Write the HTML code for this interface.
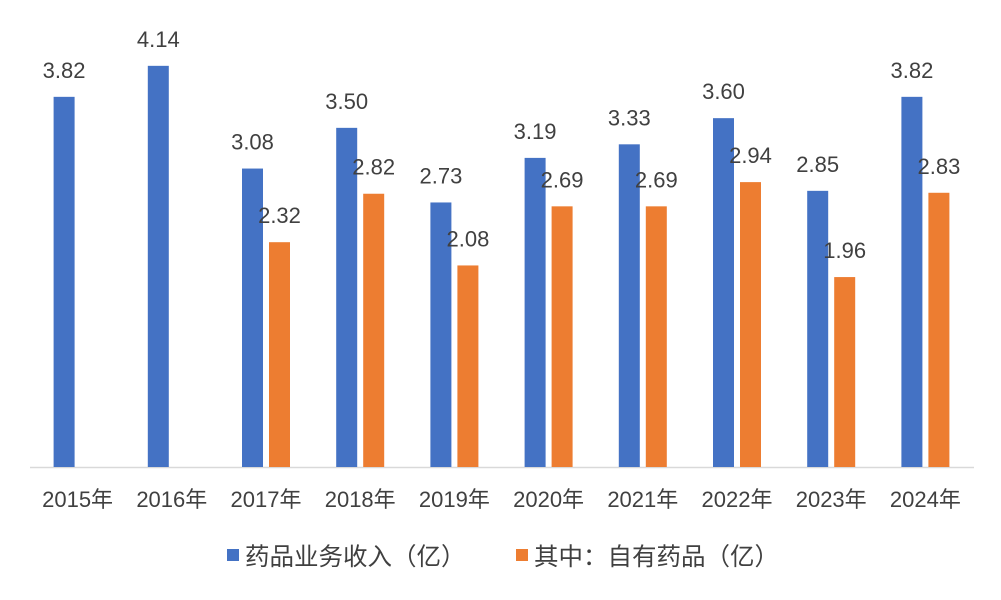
<!DOCTYPE html>
<html><head><meta charset="utf-8"><style>
html,body{margin:0;padding:0;background:#fff;}
svg{display:block;font-family:"Liberation Sans","Noto Sans CJK SC",sans-serif;}
</style></head><body>
<svg id="chart" width="1001" height="600">
<line x1="30" y1="467.5" x2="974" y2="467.5" stroke="#d9d9d9" stroke-width="1.5"/>
<g id="bars"></g>
<g id="labels"></g>
<g>
<g>
<rect x="227" y="549" width="12" height="12" fill="#4472c4"/>
<text x="245" y="565" font-size="24.5" fill="#404040">药品业务收入（亿）</text></g>
<g>
<rect x="516" y="549" width="12" height="12" fill="#ed7d31"/>
<text x="534" y="565" font-size="24.5" fill="#404040">其中：自有药品（亿）</text></g>
</g>
</svg>
<script>
const categories=["2015年","2016年","2017年","2018年","2019年","2020年","2021年","2022年","2023年","2024年"];
const revenue=[3.82,4.14,3.08,3.50,2.73,3.19,3.33,3.60,2.85,3.82];
const ownDrugs=[null,null,2.32,2.82,2.08,2.69,2.69,2.94,1.96,2.83];
const NS="http://www.w3.org/2000/svg";
const x0=30.5,x1=972.5,base=467,ppu=96.9;
const step=(x1-x0)/categories.length;
const cx=i=>x0+step*(i+0.5);
const y=v=>base-v*ppu;
const bars=document.getElementById('bars'),labels=document.getElementById('labels');
function mk(t,a,p){const e=document.createElementNS(NS,t);for(const k in a)e.setAttribute(k,a[k]);p.appendChild(e);return e;}
categories.forEach((c,i)=>{
 const series=[[revenue[i],-24,'#4472c4','revenue'],[ownDrugs[i],3,'#ed7d31','own-drugs']];
 series.forEach(([v,off,col,nm])=>{
  if(v==null)return;
  const r=mk('rect',{x:cx(i)+off,y:y(v),width:21,height:base-y(v),fill:col},bars);
  
  
  const t=mk('text',{x:cx(i)+off+10.5,y:y(v)-19,'font-size':22,fill:'#404040','text-anchor':'middle'},labels);
  t.textContent=v.toFixed(2);
  
  
 });
 const t=mk('text',{x:cx(i),y:507,'font-size':22,fill:'#404040','text-anchor':'middle'},labels);
 t.textContent=c;
 
 
});
</script>
</body></html>
